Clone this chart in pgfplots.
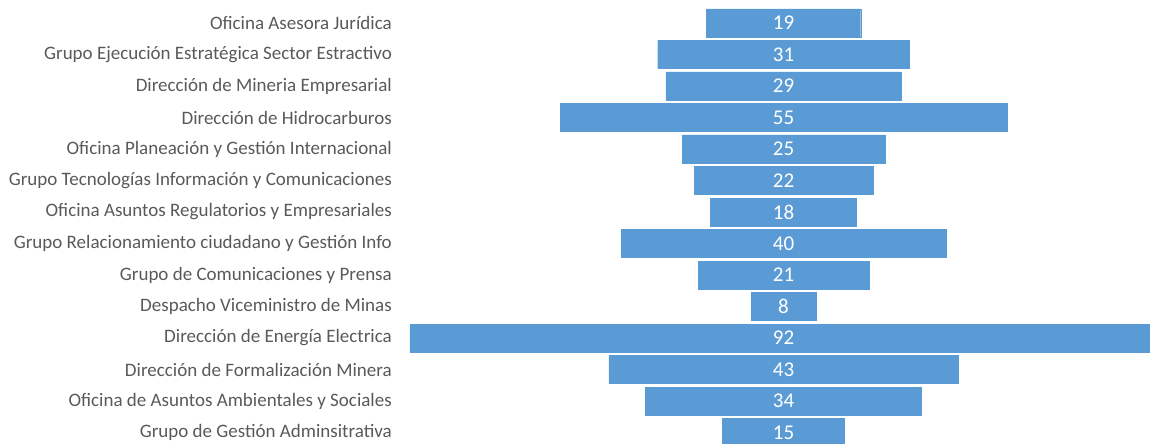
\documentclass[border=0pt]{standalone}
\usepackage{pgfplots}
\pgfplotsset{compat=1.18}
\usepackage{pgfplotstable}
\usepackage{fontspec}
\setmainfont{Carlito}
\definecolor{barblue}{HTML}{5B9BD5}
\definecolor{labelgray}{HTML}{595959}

% row 0 is the top bar
\pgfplotstableread[col sep=comma]{
row,value
0,19
1,31
2,29
3,55
4,25
5,22
6,18
7,40
8,21
9,8
10,92
11,43
12,34
13,15
}\datatable

\begin{document}
\begin{tikzpicture}
\useasboundingbox (-410bp,0) rectangle (740bp,444bp);
\begin{axis}[
    at={(0,0)}, anchor=south west,
    scale only axis,
    width=740bp, height=444bp,
    xmin=-46, xmax=45.13,
    ymin=-0.73, ymax=13.365,
    y dir=reverse,
    axis line style={draw=none},
    tick style={draw=none},
    xtick=\empty,
    ytick={0,...,13},
    yticklabels={
        Oficina Asesora Jurídica,
        Grupo Ejecución Estratégica Sector Estractivo,
        Dirección de Mineria Empresarial,
        Dirección de Hidrocarburos,
        Oficina Planeación y Gestión Internacional,
        Grupo Tecnologías Información y Comunicaciones,
        Oficina Asuntos Regulatorios y Empresariales,
        Grupo Relacionamiento ciudadano y Gestión Info,
        Grupo de Comunicaciones y Prensa,
        Despacho Viceministro de Minas,
        Dirección de Energía Electrica,
        Dirección de Formalización Minera,
        Oficina de Asuntos Ambientales y Sociales,
        Grupo de Gestión Adminsitrativa},
    yticklabel style={font=\fontsize{19bp}{22bp}\selectfont, text=labelgray,
        anchor=east, inner sep=0pt, xshift=-18bp},
]
\addplot[xbar, bar shift=0pt, bar width=28bp, fill=barblue, draw=barblue, line width=0.3pt]
    table[x expr=\thisrow{value}/2, y=row] {\datatable};
\addplot[xbar, bar shift=0pt, bar width=28bp, fill=barblue, draw=barblue, line width=0.3pt]
    table[x expr=-\thisrow{value}/2, y=row] {\datatable};
\addplot[only marks, mark=none, nodes near coords, point meta=explicit symbolic,
    nodes near coords style={anchor=center, text=white,
        font=\fontsize{21bp}{24bp}\selectfont}]
    table[x expr=0, y=row, meta=value] {\datatable};
\end{axis}
\end{tikzpicture}
\end{document}
